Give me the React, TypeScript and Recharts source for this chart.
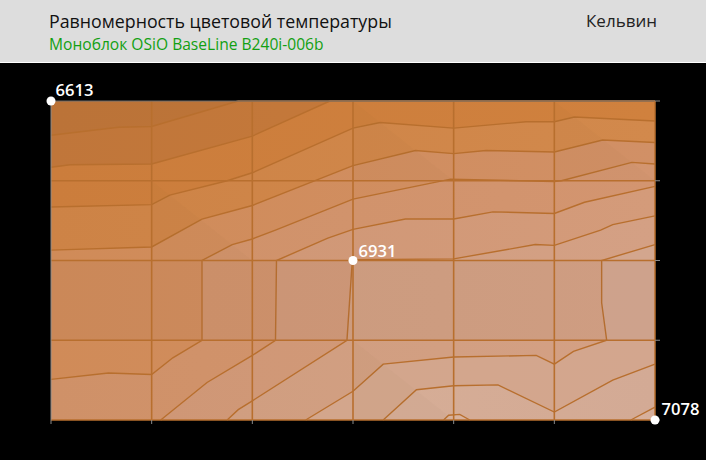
import React from 'react';
import { ComposedChart, Area, XAxis, YAxis, ReferenceLine, ReferenceDot, ReferenceArea } from 'recharts';

type Pt = [number, number];
const background: Pt[] = [[0, 4], [6, 4]];
const contour1: Pt[] = [[0, 3.57], [0.67, 3.67], [1, 3.68], [1.86, 4], [6, 4]];
const contour2: Pt[] = [[0, 3.17], [0.19, 3.2], [1, 3.21], [2, 3.56], [2.77, 4], [6, 4]];
const contour3: Pt[] = [[0, 2.67], [1, 2.7], [1.18, 2.82], [1.75, 3], [2, 3.1], [3, 3.66], [3.27, 3.73], [4, 3.66], [4.72, 3.74], [5, 3.74], [5.2, 3.8], [6, 3.75]];
const contour4: Pt[] = [[0, 2.13], [1, 2.17], [1.5, 2.52], [2, 2.69], [3, 3.19], [3.62, 3.38], [4, 3.34], [4.32, 3.38], [5, 3.36], [5.48, 3.51], [6, 3.48]];
const contour5: Pt[] = [[0, 0.51], [0.57, 0.59], [1, 0.57], [1.21, 0.78], [1.5, 1], [1.5, 2], [1.8, 2.2], [2, 2.27], [2.23, 2.38], [3, 2.77], [3.97, 3.02], [5, 2.99], [5.07, 3], [5.77, 3.23], [6, 3.21]];
const contour6: Pt[] = [[1.09, 0], [1.55, 0.47], [2, 0.81], [2.23, 1], [2.24, 2], [2.75, 2.28], [3, 2.39], [3.52, 2.52], [4, 2.52], [4.39, 2.61], [5, 2.59], [5.3, 2.73], [6, 2.93]];
const contour7: Pt[] = [[1.75, 0], [1.86, 0.13], [2, 0.24], [2.94, 1], [2.99, 1.94], [2.99, 2.01], [4, 2.02], [4.81, 2.2], [5, 2.19], [5.46, 2.38], [5.58, 2.45], [6, 2.56]];
const contour8: Pt[] = [[2.53, 0], [3, 0.36], [3.3, 0.7], [4, 0.79], [4.82, 0.81], [5, 0.7], [5.19, 0.86], [5.52, 1], [5.47, 1.47], [5.47, 2], [6, 2.2]];
const contour9: Pt[] = [[3.3, 0], [3.63, 0.38], [4, 0.43], [4.44, 0.44], [5, 0.1], [5.58, 0.5], [6, 0.7]];
const contour10: Pt[] = [[3.9, 0], [3.95, 0.06], [4.06, 0.07], [4.16, 0]];
const contour11: Pt[] = [[5.76, 0], [6, 0.16]];

const bands: Pt[][] = [background, contour1, contour2, contour3, contour4, contour5, contour6, contour7, contour8, contour9, contour10, contour11];
const bandLeftColors = ['#BB7338', '#C0763A', '#CB7D3C', '#CD8346', '#D08B58', '#CF9168', '#CF9776', '#D09E80', '#D3A68C', '#D6AD96', '#D8B29E', '#D8B29E'];
const bandRightColors = ['#BF7638', '#C87B3A', '#D0813E', '#D2894C', '#D19066', '#D39570', '#D49B7A', '#D4A084', '#D3A68E', '#D3AA95', '#D8B29E', '#D6AE9A'];

const xTicks = [0, 1, 2, 3, 4, 5, 6];
const yTicks = [0, 1, 2, 3, 4];
const innerXGrid = [1, 2, 3, 4, 5];
const innerYGrid = [1, 2, 3];
const shadedCells: Pt[] = [[1, 2], [3, 3], [3, 0], [5, 3]];
const markers = [
  { x: 0, y: 4, label: '6613', dx: -2, dy: -11 },
  { x: 3, y: 2, label: '6931', dx: -1, dy: -9 },
  { x: 6, y: 0, label: '7078', dx: 0, dy: -11 },
];

const title = 'Равномерность цветовой температуры';
const subtitle = 'Моноблок OSiO BaseLine B240i-006b';
const unit = 'Кельвин';
const LINE = '#B86F2E';
const FONT = '"Open Sans", "Noto Sans", sans-serif';

export default function App() {
  return (
    <div style={{ position: 'absolute', left: 0, top: 0, width: 706, height: 460, background: '#000', overflow: 'hidden', fontFamily: FONT }}>
      <div style={{ position: 'absolute', left: 0, top: 0, width: 706, height: 62, background: '#DDDDDD', borderBottom: '1px solid #fff' }} />
      <div style={{ position: 'absolute', left: 49, top: 9, fontSize: 17.8, color: '#111', whiteSpace: 'nowrap', fontWeight: 500 }}>{title}</div>
      <div style={{ position: 'absolute', left: 49, top: 33, fontSize: 15.6, color: '#12A012', whiteSpace: 'nowrap' }}>{subtitle}</div>
      <div style={{ position: 'absolute', left: 586, top: 9, fontSize: 17, color: '#222', whiteSpace: 'nowrap' }}>{unit}</div>
      <div style={{ position: 'absolute', left: 0, top: 0 }}>
        <ComposedChart width={706} height={460} margin={{ top: 101, right: 50, bottom: 39, left: 51 }}>
          <defs>
            {bands.map((_, i) => (
              <linearGradient key={i} id={`band${i}`} x1="0" y1="0" x2="1" y2="0">
                <stop offset="0" stopColor={bandLeftColors[i]} />
                <stop offset="1" stopColor={bandRightColors[i]} />
              </linearGradient>
            ))}
          </defs>
          <XAxis type="number" dataKey="x" domain={[0, 6]} ticks={xTicks} height={1} axisLine={false} tickSize={4} tickLine={{ stroke: '#8a8a8a' }} tick={{ fill: 'transparent', fontSize: 1 }} tickFormatter={() => ''} interval={0} allowDuplicatedCategory />
          <YAxis type="number" dataKey="y" orientation="right" domain={[0, 4]} ticks={yTicks} width={1} axisLine={false} tickSize={5} tickLine={{ stroke: '#8a8a8a' }} tick={{ fill: 'transparent', fontSize: 1 }} tickFormatter={() => ''} interval={0} />
          {bands.map((band, i) => (
            <Area
              key={i}
              data={band.map(([x, y]) => ({ x, y }))}
              dataKey="y"
              type="linear"
              baseValue={0}
              isAnimationActive={false}
              stroke={i === 0 ? 'none' : LINE}
              strokeWidth={1.4}
              fill={`url(#band${i})`}
              fillOpacity={1}
              dot={false}
              activeDot={false}
            />
          ))}
          {shadedCells.map(([cx, cy]) => (
            <Area
              key={`${cx}-${cy}`}
              data={[{ x: cx, y: cy + 1 }, { x: cx + 1, y: cy }]}
              dataKey="y"
              type="linear"
              baseValue={cy}
              isAnimationActive={false}
              stroke="none"
              fill="#4a4038"
              fillOpacity={0.025}
              dot={false}
              activeDot={false}
            />
          ))}
          <ReferenceArea x1={0} x2={6} y1={1} y2={2} fill="#3a4a50" fillOpacity={0.03} stroke="none" />
          {innerXGrid.map((x) => <ReferenceLine key={x} x={x} stroke={LINE} strokeWidth={1.6} />)}
          {innerYGrid.map((y) => <ReferenceLine key={y} y={y} stroke={LINE} strokeWidth={1.6} />)}
          <ReferenceLine y={4} stroke="#6e6e6e" strokeWidth={1} />
          <ReferenceLine y={0} stroke={LINE} strokeWidth={1.5} />
          <ReferenceLine x={6} stroke={LINE} strokeWidth={1.5} />
          <ReferenceLine x={0} stroke="#8a8a8a" strokeWidth={1} />
          {markers.map((m) => (
            <ReferenceDot
              key={m.label}
              x={m.x}
              y={m.y}
              r={4.5}
              fill="#fff"
              stroke="none"
              label={{ value: m.label, position: 'right', offset: 2, dx: m.dx, dy: m.dy, fill: '#fff', fontSize: 16.6, fontWeight: 600, fontFamily: FONT }}
            />
          ))}
        </ComposedChart>
      </div>
    </div>
  );
}
